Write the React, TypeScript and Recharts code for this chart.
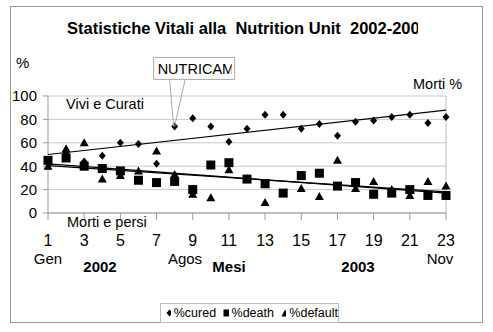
import React from "react";
import {
  ScatterChart,
  Scatter,
  XAxis,
  YAxis,
  CartesianGrid,
  ReferenceDot,
} from "recharts";

// months 1..23 (Gen 2002 .. Nov 2003)
const months = [1, 2, 3, 4, 5, 6, 7, 8, 9, 10, 11, 12, 13, 14, 15, 16, 17, 18, 19, 20, 21, 22, 23];
const cured = [null, 51, 44, 49, 60, 59, 42, 74, 81, 74, 61, 72, 84, 84, 72, 76, 66, 78, 79, 82, 84, 77, 82];
const death = [45, 47, 40, 38, 36, 28, 26, 27, 20, 41, 43, 29, 25, 17, 32, 34, 23, 26, 16, 17, 20, 15, 15];
const defaulted = [40, 55, 60, 29, 32, 36, 53, 33, 16, 13, 37, 29, 9, null, 21, 14, 45, 21, 27, 20, 15, 27, 23];

// trend line end points
const curedTrend = [{ x: 1, y: 50 }, { x: 23, y: 88 }];
const deathTrend = [{ x: 1, y: 42 }, { x: 23, y: 17 }];
const defaultTrend = [{ x: 1, y: 40.5 }, { x: 23, y: 18 }];

const xTicks = [1, 3, 5, 7, 9, 11, 13, 15, 17, 19, 21, 23];
const yTicks = [0, 20, 40, 60, 80, 100];
// right side "Morti %" labels, placed against the left scale
const rightTickValues = [1.5, 22.5, 50.5, 78];
const rightTickLabels = ["10", "20", "30", "40"];

const toPoints = (vals: (number | null)[]) =>
  months
    .map((m, i) => ({ x: m, y: vals[i] }))
    .filter((d) => d.y !== null);

const curedData = toPoints(cured);
const deathData = toPoints(death);
const defaultData = toPoints(defaulted);

const Diamond = (p: any) => (
  <path
    d={`M${p.cx},${p.cy - 4}L${p.cx + 3.5},${p.cy}L${p.cx},${p.cy + 4}L${p.cx - 3.5},${p.cy}Z`}
    fill="#000"
  />
);
const Square = (p: any) => (
  <rect x={p.cx - 4.5} y={p.cy - 4.5} width={9} height={9} fill="#000" />
);
const Triangle = (p: any) => (
  <path
    d={`M${p.cx},${p.cy - 4.5}L${p.cx + 4.5},${p.cy + 3.5}L${p.cx - 4.5},${p.cy + 3.5}Z`}
    fill="#000"
  />
);
const NoShape = () => <g />;

const Callout = (p: any) => {
  const { cx, cy } = p;
  return (
    <g>
      <line x1={cx - 5} y1={cy - 47} x2={cx - 1} y2={cy} stroke="#aaa" />
      <line x1={cx + 10.5} y1={cy - 47} x2={cx} y2={cy} stroke="#aaa" />
      <rect x={cx - 21} y={cy - 69} width={81} height={22} fill="#fff" stroke="#aaa" />
      <svg x={cx - 21} y={cy - 69} width={78} height={22}>
        <text x={4} y={16.5} fontSize={14.5} fill="#000">
          NUTRICAM
        </text>
      </svg>
    </g>
  );
};

const abs = (extra: React.CSSProperties): React.CSSProperties => ({
  position: "absolute",
  lineHeight: 1,
  whiteSpace: "pre",
  ...extra,
});

export default function App() {
  return (
    <div
      style={{
        position: "absolute",
        left: 0,
        top: 0,
        width: 493,
        height: 332,
        background: "#fff",
        fontFamily: '"Liberation Sans", Arial, sans-serif',
        color: "#000",
      }}
    >
      <div
        style={{
          position: "absolute",
          left: 10,
          top: 6,
          width: 473,
          height: 317,
          border: "1.5px solid #999",
          boxSizing: "border-box",
        }}
      />
      <ScatterChart
        width={493}
        height={332}
        margin={{ top: 96, right: 7, bottom: 89, left: 0 }}
        style={{ position: "absolute", left: 0, top: 0 }}
      >
        <CartesianGrid vertical={false} stroke="#c8c8c8" yAxisId="left" />
        <XAxis
          type="number"
          dataKey="x"
          domain={[1, 23]}
          ticks={xTicks}
          interval={0}
          height={30}
          tickSize={7}
          tickMargin={15}
          stroke="#999"
          tick={{ fontSize: 16, fill: "#000" }}
        />
        <YAxis
          yAxisId="left"
          type="number"
          dataKey="y"
          domain={[0, 100]}
          ticks={yTicks}
          width={48}
          tickSize={5}
          tickMargin={6}
          stroke="#999"
          tick={{ fontSize: 15, fill: "#000" }}
        />
        <YAxis
          yAxisId="right"
          orientation="right"
          type="number"
          domain={[0, 100]}
          ticks={rightTickValues}
          tickFormatter={(v: number) => rightTickLabels[rightTickValues.indexOf(v)]}
          width={40}
          tickLine={false}
          tickMargin={4}
          stroke="#bbb"
          tick={{ fontSize: 15, fill: "#000" }}
        />
        <Scatter
          yAxisId="left"
          data={curedTrend}
          line={{ stroke: "#000", strokeWidth: 1.2 }}
          shape={NoShape}
          isAnimationActive={false}
        />
        <Scatter
          yAxisId="left"
          data={deathTrend}
          line={{ stroke: "#000", strokeWidth: 1.2 }}
          shape={NoShape}
          isAnimationActive={false}
        />
        <Scatter
          yAxisId="left"
          data={defaultTrend}
          line={{ stroke: "#000", strokeWidth: 1.2 }}
          shape={NoShape}
          isAnimationActive={false}
        />
        <Scatter name="%cured" yAxisId="left" data={curedData} shape={Diamond} isAnimationActive={false} />
        <Scatter name="%death" yAxisId="left" data={deathData} shape={Square} isAnimationActive={false} />
        <Scatter name="%default" yAxisId="left" data={defaultData} shape={Triangle} isAnimationActive={false} />
        <ReferenceDot
          yAxisId="left"
          x={8}
          y={cured[7] as number}
          ifOverflow="visible"
          shape={Callout}
        />
      </ScatterChart>

      <div style={abs({ left: 67, top: 20, width: 351, overflow: "hidden", fontSize: 16.5, fontWeight: "bold" })}>
        {"Statistiche Vitali alla  Nutrition Unit  2002-2003"}
      </div>
      <div style={abs({ left: 16, top: 55, fontSize: 15 })}>%</div>
      <div style={abs({ left: 413, top: 77, fontSize: 14.5 })}>Morti %</div>
      <div style={abs({ left: 66, top: 97, fontSize: 14.5 })}>Vivi e Curati</div>
      <div style={abs({ left: 67, top: 215, fontSize: 14.5 })}>Morti e persi</div>
      <div style={abs({ left: 48, top: 251, fontSize: 15, transform: "translateX(-50%)" })}>Gen</div>
      <div style={abs({ left: 185, top: 251, fontSize: 15, transform: "translateX(-50%)" })}>Agos</div>
      <div style={abs({ left: 440, top: 251, fontSize: 15, transform: "translateX(-50%)" })}>Nov</div>
      <div style={abs({ left: 100, top: 259, fontSize: 15, fontWeight: "bold", transform: "translateX(-50%)" })}>2002</div>
      <div style={abs({ left: 229, top: 259, fontSize: 15, fontWeight: "bold", transform: "translateX(-50%)" })}>Mesi</div>
      <div style={abs({ left: 358, top: 259, fontSize: 15, fontWeight: "bold", transform: "translateX(-50%)" })}>2003</div>

      <div
        style={{
          position: "absolute",
          left: 160,
          top: 303,
          width: 179,
          height: 20,
          border: "1px solid #bbb",
          boxSizing: "border-box",
          background: "#fff",
          display: "flex",
          alignItems: "center",
          fontSize: 12.5,
          paddingLeft: 5,
          gap: 3,
        }}
      >
        <svg width={7} height={8}><path d="M3.5,0.5L6.5,4L3.5,7.5L0.5,4Z" fill="#000" /></svg>
        <span style={{ marginRight: 4 }}>%cured</span>
        <svg width={8} height={8}><rect x={0.5} y={0.5} width={7} height={7} fill="#000" /></svg>
        <span style={{ marginRight: 4 }}>%death</span>
        <svg width={8} height={8}><path d="M4,0.5L7.5,7.5L0.5,7.5Z" fill="#000" /></svg>
        <span>%default</span>
      </div>
    </div>
  );
}
